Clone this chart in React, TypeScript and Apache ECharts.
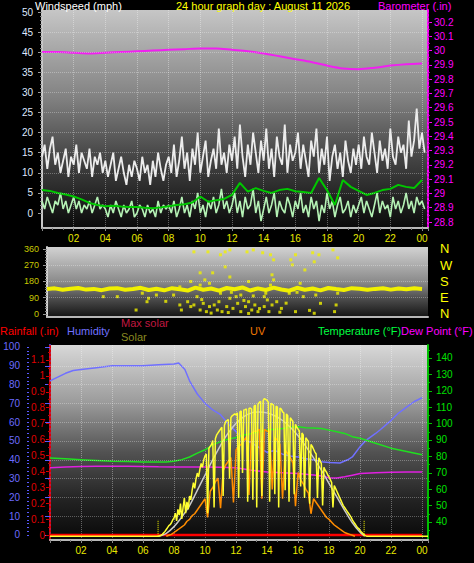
import React, { useEffect, useRef } from 'react';
import * as echarts from 'echarts';

const FONT = '"Liberation Sans", Arial, sans-serif';

// ---------- top panel (10-minute samples from 00:00) ----------
const gustMph = [
  14,17,11,16,19,12,15,10,13,16,9,14,12,17,10,15,13,11,16,9,14,12,15,10,
  13,9,12,15,8,11,14,10,7,12,9,13,11,8,14,10,12,7,13,9,15,11,8,12,
  14,10,17,9,13,19,11,15,8,16,12,20,10,14,18,9,13,16,11,21,12,15,10,17,
  13,19,11,22,14,9,17,12,20,15,10,18,13,21,11,16,9,19,14,12,22,10,17,13,
  15,20,11,17,13,9,18,14,21,10,16,12,19,8,14,17,11,15,9,18,13,10,16,12,
  17,11,19,14,12,20,15,10,18,13,16,11,21,14,12,19,15,17,11,23,14,18,26,16,
  20,15,
];
const avgMph = [
  3,1,4,2,0,3,2,5,1,3,0,2,4,1,3,0,2,1,3,0,2,4,1,2,
  1,-1,2,0,3,1,-1,2,0,1,3,-1,0,2,1,-1,2,0,1,-1,3,0,2,1,
  2,0,3,-1,1,4,0,2,-1,3,1,5,0,2,-1,3,1,4,0,2,6,1,3,0,
  2,5,0,3,-1,4,1,2,6,0,3,-2,1,4,0,2,5,-1,3,1,0,4,2,-1,
  3,1,5,0,2,-1,4,1,3,-2,2,0,5,1,3,-1,2,4,0,1,3,-1,2,0,
  2,4,0,3,1,-1,2,5,0,3,1,2,-1,4,1,3,0,2,5,1,3,0,4,2,
  3,1,
];
// half-hourly
const avgLineMph = [
  5.7,5.5,5.0,4.6,4.1,3.4,2.5,2.0,1.7,1.8,1.6,1.5,1.5,1.3,1.2,1.4,1.7,2.0,2.2,2.6,
  4.1,2.8,3.2,3.5,4.5,7.5,5.3,6.2,5.5,5.0,5.7,6.0,5.4,5.2,5.0,8.7,5.7,2.0,8.2,6.5,
  5.5,4.5,5.0,5.7,6.0,7.0,6.5,6.2,8.2,
];
// hourly
const baroIn = [
  29.99,29.99,29.985,29.98,29.985,29.99,29.995,30.0,30.005,30.01,30.015,30.015,30.005,
  29.995,29.98,29.96,29.94,29.92,29.895,29.875,29.87,29.88,29.895,29.905,29.91,
];

// ---------- middle panel ----------
// half-hourly
const dirBandDeg = [
  138,142,134,140,144,135,139,132,141,143,134,138,145,133,140,131,143,137,130,146,
  134,141,129,144,137,147,130,142,133,146,136,129,145,134,141,131,144,138,133,143,
  140,134,139,143,135,141,137,142,139,
];
const dirScatterHourDeg = [
  [3.6,96],[4.5,96],[5.7,22],[6.4,68],[6.5,87],[7.0,105],[8.5,50],[8.6,22],[9.0,68],[9.2,41],
  [9.4,50],[9.6,96],[9.8,22],[10.0,59],[10.2,13],[10.4,41],[10.7,50],[10.9,22],[11.0,68],[11.2,13],
  [11.5,41],[11.7,87],[11.9,31],[12.2,59],[12.4,13],[12.7,41],[12.9,68],[13.1,22],[13.3,50],[13.5,13],
  [13.9,41],[14.1,78],[14.2,13],[14.4,50],[14.7,68],[15.0,31],[15.9,13],[16.4,96],[17.1,4],[17.5,59],
  [18.4,13],[18.5,50],[10.5,5],[11.6,8],[12.9,3],[13.6,30],[14.9,10],[9.9,80],[12.6,75],[15.3,60],
  [16.8,20],[7.6,70],[13.2,100],[11.8,120],[14.0,115],[16.0,120],
  [9.4,344],[10.3,344],[11.1,328],[11.4,344],[11.7,355],[12.8,344],[13.2,355],[13.8,339],[14.3,328],
  [15.9,328],[17.0,339],[17.4,328],[18.3,355],
  [11.4,261],[14.5,300],[15.6,300],[15.7,272],[17.1,289],[18.6,311],[16.5,244],
  [9.8,228],[10.6,228],[11.7,205],[14.4,217],
  [9.2,180],[9.8,160],[10.4,170],[11.1,115],[12.4,105],[12.9,180],[13.9,96],[14.3,160],[15.5,115],
  [16.2,170],[17.2,105],[18.6,115],[6.1,115],[8.1,105],[10.1,189],[14.5,189],[12.1,96],[8.5,150],[15.8,133],
];

// ---------- bottom panel ----------
const humidityHours = [0,0.5,1,1.5,2,3,4,5,6,7,8,8.3,8.7,9,9.5,10,10.5,11,11.5,12,12.5,13,13.5,14,14.5,15,15.5,16,16.5,17,17.5,18,18.7,19.2,19.5,20,20.4,21,21.3,22,22.5,23,23.5,24];
const humidityPct = [82,84,86,87.5,88,89,90,90,90,90.5,91,91.5,88,82,75,70,66.5,64,59,55,51,49,46.5,44,45,43,42,41.5,40.5,40,39,38.5,38.3,40,41.5,47,50.5,54,56,61,65,68,71,73];
const tempHours = [0,1,2,3,4,5,6,7,7.5,8,8.5,9,9.5,10,10.5,11,11.5,12,12.5,13,13.5,14,14.5,15,15.5,16,16.5,17,17.5,18,18.5,19,19.5,20,20.5,21,22,23,24];
const tempF = [79,78.5,78,77.5,77,76.8,76.5,76.5,76.6,77,78,79.6,82,84,87,89,90.5,91.5,93,94,95,96,96.5,97,97.8,98,97.5,97.3,97,96,95,94,92,91,89.5,88,85,83,81];
const dewHours = [0,1,2,3,4,5,6,7,8,9,10,11,12,12.5,13,14,15,16,17,17.5,18,18.5,19,19.5,20,21,22,23,24];
const dewF = [73,73.5,73.8,74,74,74,73.8,73.6,73.5,73.5,73.5,73.3,73,72.3,71.5,70.5,70,69.5,68.7,68,67,66.8,67.5,68.5,69.5,70,70.3,70.5,70.5];
const rainHours = [0,3,6,9,12,15,18,21,24];
const rainIn = [0,0,0,0,0,0,0,0,0];
const maxSolarHours = [7,7.5,8,8.5,9,9.5,10,10.5,11,11.5,12,12.5,13,13.5,14,14.5,15,15.5,16,16.5,17,17.5,18,18.5,19,19.5,20,20.3];
const maxSolarWm2 = [0,15,50,100,160,240,320,400,475,540,590,625,645,650,645,630,605,570,525,470,410,345,275,205,135,70,20,0];
// 5-minute samples from 07:00
const solarWm2 = [
  0,2,5,10,18,25,35,45,55,60,70,85,
  95,120,80,140,110,170,90,150,200,120,180,140,
  210,190,240,280,250,300,330,310,350,380,360,400,
  420,430,120,460,470,480,500,150,510,530,540,550,
  560,570,210,580,600,605,610,300,620,630,635,640,
  635,645,200,650,655,330,660,662,665,180,668,670,
  665,190,680,685,150,690,700,705,210,710,720,715,
  710,700,180,695,690,685,220,680,675,150,670,665,
  650,645,240,640,630,180,620,610,600,220,585,570,
  560,550,260,540,530,200,515,505,495,170,480,470,
  455,440,430,200,410,395,380,160,360,345,335,320,
  310,295,280,150,265,250,235,220,205,190,175,160,
  150,140,130,120,110,100,85,75,65,55,45,40,
  30,22,15,8,3,0,0,
];
// 10-minute samples from 07:30
const uvIndex = [
  0,0.05,0.1,0.2,0.3,0.4,
  0.5,0.6,0.8,0.9,1.1,1.2,
  1.4,1.6,1.8,2.0,1.0,2.4,
  2.6,2.9,3.1,1.5,3.5,3.8,
  4.0,4.2,1.8,4.6,4.8,4.9,
  5.1,5.3,2.2,5.5,5.6,5.6,
  5.7,2.0,5.7,5.6,5.6,2.5,
  5.3,5.1,4.9,2.0,4.6,4.4,
  4.2,3.9,1.6,3.4,3.0,2.8,
  2.5,2.3,1.2,2.0,1.8,1.6,
  1.4,1.2,1.0,0.9,0.75,0.6,
  0.5,0.4,0.3,0.2,0.15,0.1,
  0.05,0,
];
const sunriseHour = 6.97;
const sunsetHour = 20.26;

const X_MAX = 24.38;

const series = (start: number, step: number, vals: number[]) => vals.map((v, i) => [start + i * step, v]);
const zip = (xs: number[], ys: number[]) => xs.map((x, i) => [x, ys[i]]);
const range = (a: number, b: number, s: number) => {
  const out: number[] = [];
  const n = Math.round((b - a) / s);
  for (let i = 0; i <= n; i++) out.push(+(a + i * s).toFixed(3));
  return out;
};
const trim = (v: number) => String(+v.toFixed(2));

const grad = (stops: [number, string][]) => ({
  type: 'linear', x: 0, y: 0, x2: 0, y2: 1,
  colorStops: stops.map(([offset, color]) => ({ offset, color })),
});

const hourFmt = (v: number) => {
  const r = Math.round(v);
  if (Math.abs(v - r) > 0.01 || r === 0 || r % 2) return '';
  return String(r % 24).padStart(2, '0');
};

const xAxisBase = (gridIndex: number, labels: boolean, split: boolean) => ({
  type: 'value', gridIndex, min: 0, max: X_MAX, interval: 2,
  axisLine: { show: true, onZero: false, lineStyle: { color: '#b8b8b8', width: 2 } },
  axisTick: { show: labels, length: 3, lineStyle: { color: '#8a8a8a' } },
  minorTick: { show: labels, splitNumber: 3, length: 2, lineStyle: { color: '#7a7a7a' } },
  axisLabel: { show: labels, color: '#e8e800', fontSize: 10, fontFamily: FONT, margin: 5, formatter: hourFmt },
  splitLine: { show: split, lineStyle: { color: 'rgba(255,255,255,0.35)', type: 'dotted', width: 1 } },
});

const minorAxis = (gridIndex: number, position: string, min: number, max: number, values: number[], color: string, offset = 0) => ({
  type: 'value', gridIndex, position, min, max, offset,
  axisLine: { show: false }, splitLine: { show: false },
  axisLabel: { show: false },
  axisTick: { show: true, customValues: values, length: 2, lineStyle: { color } },
});

const hLines = (values: number[]) => ({
  silent: true, symbol: 'none', label: { show: false }, animation: false,
  lineStyle: { color: 'rgba(255,255,255,0.3)', type: 'dotted', width: 1 },
  data: values.map((v) => ({ yAxis: v })),
});

export default function App() {
  const ref = useRef<HTMLDivElement>(null);
  useEffect(() => {
    if (!ref.current) return;
    const chart = echarts.init(ref.current, null, { renderer: 'svg' });

    const WIND = { min: -3.73, max: 50.5 };
    const BARO = { min: 28.758, max: 30.284 };
    const DIR = { min: -16.7, max: 371 };
    const HUM = { min: -2.66, max: 101.06 };
    const RAIN = { min: -0.0314, max: 1.194 };
    const TEMP = { min: 29.0, max: 147.9 };

    const windMajor = range(0, 50, 5);
    const baroMajor = range(28.8, 30.2, 0.1);
    const dirMajor = range(0, 360, 90);
    const humMajor = range(0, 100, 10);
    const rainMajor = range(0, 1.1, 0.1);
    const tempMajor = range(40, 140, 10);

    const option: any = {
      animation: false,
      backgroundColor: '#000000',
      textStyle: { fontFamily: FONT },
      grid: [
        { left: 42, top: 10, width: 386, height: 218, show: true, borderWidth: 0,
          backgroundColor: grad([[0, '#c6c6c6'], [0.4, '#828282'], [0.65, '#4a4a4a'], [0.85, '#252525'], [1, '#0a0a0a']]) },
        { left: 47, top: 247, width: 381, height: 70, show: true, borderWidth: 0,
          backgroundColor: grad([[0, '#d2d2d2'], [0.5, '#8a8a8a'], [0.75, '#4a4a4a'], [1, '#141414']]) },
        { left: 50, top: 345, width: 378, height: 195, show: true, borderWidth: 0,
          backgroundColor: grad([[0, '#d8d8d8'], [0.3, '#9a9a9a'], [0.55, '#525252'], [0.8, '#222222'], [1, '#080808']]) },
      ],
      xAxis: [xAxisBase(0, true, true), xAxisBase(1, false, false), xAxisBase(2, true, true)],
      yAxis: [
        { type: 'value', gridIndex: 0, position: 'left', ...WIND,
          axisLine: { show: true, lineStyle: { color: '#c8c8c8', width: 2 } },
          axisTick: { show: true, customValues: windMajor, length: 4, lineStyle: { color: '#9a9a9a' } },
          axisLabel: { customValues: windMajor, color: '#dfe8ff', fontSize: 10, fontFamily: FONT, margin: 9 },
          splitLine: { show: false } },
        minorAxis(0, 'left', WIND.min, WIND.max, range(0, 50, 1), '#8a8a8a'),
        { type: 'value', gridIndex: 0, position: 'right', ...BARO,
          axisLine: { show: true, lineStyle: { color: '#ff00ff', width: 2, type: 'dotted' } },
          axisTick: { show: true, customValues: baroMajor, length: 4, lineStyle: { color: '#ff00ff' } },
          axisLabel: { customValues: baroMajor, color: '#ff00ff', fontSize: 10, fontFamily: FONT, margin: 6, formatter: trim },
          splitLine: { show: false } },
        minorAxis(0, 'right', BARO.min, BARO.max, range(28.8, 30.2, 0.05), '#c000c0'),
        { type: 'value', gridIndex: 1, position: 'left', ...DIR,
          axisLine: { show: true, lineStyle: { color: '#d0d0d0', width: 2 } },
          axisTick: { show: true, customValues: dirMajor, length: 4, lineStyle: { color: '#9a9a9a' } },
          axisLabel: { customValues: dirMajor, color: '#c8c800', fontSize: 9, fontFamily: FONT, margin: 8 },
          splitLine: { show: false } },
        minorAxis(1, 'left', DIR.min, DIR.max, range(0, 360, 15), '#8a8a8a'),
        { type: 'value', gridIndex: 1, position: 'right', ...DIR,
          axisLine: { show: false }, axisTick: { show: false }, splitLine: { show: false },
          axisLabel: { customValues: dirMajor, color: '#ffff00', fontSize: 13, fontFamily: FONT, margin: 12,
            formatter: (v: number) => ({ 0: 'N', 90: 'E', 180: 'S', 270: 'W', 360: 'N' } as any)[Math.round(v)] || '' } },
        { type: 'value', gridIndex: 2, position: 'left', offset: 21, ...HUM,
          axisLine: { show: true, lineStyle: { color: '#5a5aff', width: 2 } },
          axisTick: { show: true, customValues: humMajor, length: 5, lineStyle: { color: '#5a5aff' } },
          axisLabel: { customValues: humMajor, color: '#6b6bff', fontSize: 10, fontFamily: FONT, margin: 9 },
          splitLine: { show: false } },
        minorAxis(2, 'left', HUM.min, HUM.max, range(0, 100, 2), '#5a5aff', 21),
        { type: 'value', gridIndex: 2, position: 'left', offset: 0, ...RAIN,
          axisLine: { show: true, lineStyle: { color: '#e00000', width: 2, type: 'dotted' } },
          axisTick: { show: true, customValues: rainMajor, length: 4, lineStyle: { color: '#e00000' } },
          axisLabel: { customValues: rainMajor, color: '#e00000', fontSize: 10, fontFamily: FONT, margin: 5, formatter: trim },
          splitLine: { show: false } },
        minorAxis(2, 'left', RAIN.min, RAIN.max, range(0, 1.15, 0.05), '#c00000'),
        { type: 'value', gridIndex: 2, position: 'right', ...TEMP,
          axisLine: { show: true, lineStyle: { color: '#00c000', width: 2 } },
          axisTick: { show: true, customValues: tempMajor, length: 4, lineStyle: { color: '#00c000' } },
          axisLabel: { customValues: tempMajor, color: '#00e000', fontSize: 10, fontFamily: FONT, margin: 8 },
          splitLine: { show: false } },
        minorAxis(2, 'right', TEMP.min, TEMP.max, range(35, 145, 5), '#00c000'),
        { type: 'value', gridIndex: 2, show: false, min: -20, max: 1000, splitLine: { show: false } },
        { type: 'value', gridIndex: 2, show: false, min: -0.2, max: 10.2, splitLine: { show: false } },
      ],
      series: [
        { type: 'line', xAxisIndex: 0, yAxisIndex: 0, data: series(0, 1 / 6, gustMph), symbol: 'none',
          lineStyle: { color: '#ececec', width: 1.8 }, markLine: hLines(range(5, 45, 5)) },
        { type: 'line', xAxisIndex: 0, yAxisIndex: 0, data: series(0, 1 / 6, avgMph), symbol: 'none',
          lineStyle: { color: '#b5f2b5', width: 1.6 } },
        { type: 'line', xAxisIndex: 0, yAxisIndex: 0, data: series(0, 0.5, avgLineMph), symbol: 'none',
          lineStyle: { color: '#00c800', width: 2 } },
        { type: 'line', xAxisIndex: 0, yAxisIndex: 2, data: series(0, 1, baroIn), symbol: 'none', smooth: 0.3,
          lineStyle: { color: '#f020f0', width: 2 } },
        { type: 'line', xAxisIndex: 1, yAxisIndex: 4, data: series(0, 0.5, dirBandDeg), symbol: 'none',
          lineStyle: { color: '#f0f000', width: 4 }, markLine: hLines([90, 180, 270]) },
        { type: 'scatter', xAxisIndex: 1, yAxisIndex: 4, data: dirScatterHourDeg, symbol: 'rect', symbolSize: 3,
          itemStyle: { color: '#f0f000' } },
        { type: 'line', xAxisIndex: 2, yAxisIndex: 9, data: zip(rainHours, rainIn), symbol: 'none',
          lineStyle: { color: '#ff0000', width: 2.5 } },
        { type: 'line', xAxisIndex: 2, yAxisIndex: 7, data: zip(humidityHours, humidityPct), symbol: 'none',
          lineStyle: { color: '#7070ff', width: 1.5 }, markLine: hLines(range(10, 90, 10)) },
        { type: 'line', xAxisIndex: 2, yAxisIndex: 11, data: zip(tempHours, tempF), symbol: 'none',
          lineStyle: { color: '#20e020', width: 1.5 } },
        { type: 'line', xAxisIndex: 2, yAxisIndex: 11, data: zip(dewHours, dewF), symbol: 'none',
          lineStyle: { color: '#e020e0', width: 1.5 } },
        { type: 'line', xAxisIndex: 2, yAxisIndex: 13, data: zip(maxSolarHours, maxSolarWm2), symbol: 'none', smooth: 0.3,
          lineStyle: { color: '#c8c8c8', width: 1.5 } },
        { type: 'line', xAxisIndex: 2, yAxisIndex: 14, data: series(7.5, 1 / 6, uvIndex), symbol: 'none',
          lineStyle: { color: '#ff8c00', width: 1.5 } },
        { type: 'line', xAxisIndex: 2, yAxisIndex: 13,
          data: [[0, 0], [6.95, 0], ...series(7, 1 / 12, solarWm2), [20.6, 0], [X_MAX, 0]], symbol: 'none',
          lineStyle: { color: '#ffff30', width: 1.5 } },
        { type: 'line', xAxisIndex: 2, yAxisIndex: 13,
          data: [[sunriseHour, 0], [sunriseHour, 85], [13, '-'], [sunsetHour, 0], [sunsetHour, 85]], symbol: 'none',
          connectNulls: false, lineStyle: { color: '#ffff00', width: 1, type: 'dotted' } },
      ],
      graphic: [
        { type: 'text', left: 35, top: 0, style: { text: 'Windspeed (mph)', fill: '#ffffff', font: `11px ${FONT}` } },
        { type: 'text', left: 176, top: 0, style: { text: '24 hour graph day : August 11 2026', fill: '#ffff00', font: `11px ${FONT}` } },
        { type: 'text', left: 378, top: 0, style: { text: 'Barometer (.in)', fill: '#ff00ff', font: `11px ${FONT}` } },
        { type: 'text', left: 0, top: 325, style: { text: 'Rainfall (.in)', fill: '#ff0000', font: `11px ${FONT}` } },
        { type: 'text', left: 67, top: 325, style: { text: 'Humidity', fill: '#7070ff', font: `11px ${FONT}` } },
        { type: 'text', left: 121, top: 317, style: { text: 'Max solar', fill: '#c01840', font: `11px ${FONT}` } },
        { type: 'text', left: 121, top: 331, style: { text: 'Solar', fill: '#8a8a20', font: `11px ${FONT}` } },
        { type: 'text', left: 250, top: 325, style: { text: 'UV', fill: '#f07800', font: `11px ${FONT}` } },
        { type: 'text', left: 318, top: 325, style: { text: 'Temperature (°F)', fill: '#00ff40', font: `11px ${FONT}` } },
        { type: 'text', left: 401, top: 325, style: { text: 'Dew Point (°F)', fill: '#ff00ff', font: `11px ${FONT}` } },
      ],
    };
    chart.setOption(option);
    return () => chart.dispose();
  }, []);
  return <div ref={ref} style={{ width: 474, height: 563, position: 'absolute', left: 0, top: 0 }} />;
}
